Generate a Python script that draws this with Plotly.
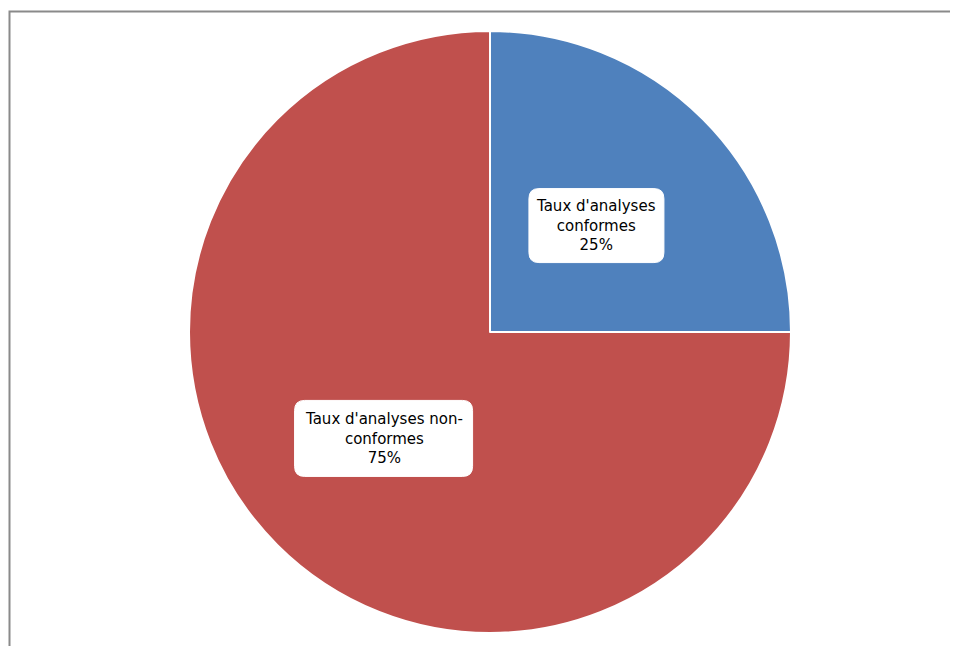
import math
import plotly.graph_objects as go

labels = ["Taux d'analyses conformes", "Taux d'analyses non-conformes"]
label_lines = ["Taux d'analyses<br>conformes", "Taux d'analyses non-<br>conformes"]
values = [25, 75]
colors = ["#4F81BD", "#C0504D"]
box_sizes = [(135, 74), (178, 76)]  # px (styling)

W, H = 958, 646
OFF = 8  # page body margin
cx, cy, r = 490 - OFF, 332 - OFF, 301  # pie centre / radius in px

fig = go.Figure(go.Pie(
    labels=labels, values=values, sort=False, direction="clockwise", rotation=0,
    marker=dict(colors=colors, line=dict(color="white", width=2)),
    textinfo="none", hoverinfo="label+percent", showlegend=False,
    domain=dict(x=[(cx - r) / W, (cx + r) / W], y=[(H - cy - r) / H, (H - cy + r) / H]),
))

shapes = [dict(type="rect", xref="paper", yref="paper",
               x0=(9.5 - OFF) / W, x1=1.2, y0=-0.2, y1=1 - (11.5 - OFF) / H,
               line=dict(color="#8a8a8a", width=2), fillcolor="rgba(0,0,0,0)", layer="above")]
annotations = []
total = sum(values)
cum = 0
for i, v in enumerate(values):
    mid = (cum + v / 2) / total * 2 * math.pi
    cum += v
    px = cx + 0.5 * r * math.sin(mid)
    py = cy - 0.5 * r * math.cos(mid)
    bw, bh = box_sizes[i]
    rad = 10
    x0, x1 = px - bw / 2, px + bw / 2
    y0, y1 = py - bh / 2, py + bh / 2
    def P(x, y):
        return f"{x / W:.5f},{1 - y / H:.5f}"
    path = (f"M {P(x0 + rad, y0)} L {P(x1 - rad, y0)} Q {P(x1, y0)} {P(x1, y0 + rad)} "
            f"L {P(x1, y1 - rad)} Q {P(x1, y1)} {P(x1 - rad, y1)} "
            f"L {P(x0 + rad, y1)} Q {P(x0, y1)} {P(x0, y1 - rad)} "
            f"L {P(x0, y0 + rad)} Q {P(x0, y0)} {P(x0 + rad, y0)} Z")
    shapes.append(dict(type="path", xref="paper", yref="paper", path=path,
                       fillcolor="white", line=dict(color="white", width=1), layer="above"))
    pct = round(v / total * 100)
    annotations.append(dict(x=px / W, y=1 - py / H, xref="paper", yref="paper",
                            text=f"{label_lines[i]}<br>{pct}%", showarrow=False,
                            font=dict(family="DejaVu Sans", size=15, color="black"),
                            align="center", xanchor="center", yanchor="middle"))

fig.update_layout(width=W, height=H, margin=dict(l=0, r=0, t=0, b=0),
                  paper_bgcolor="white", plot_bgcolor="white",
                  shapes=shapes, annotations=annotations)
fig.write_html("out.html")
